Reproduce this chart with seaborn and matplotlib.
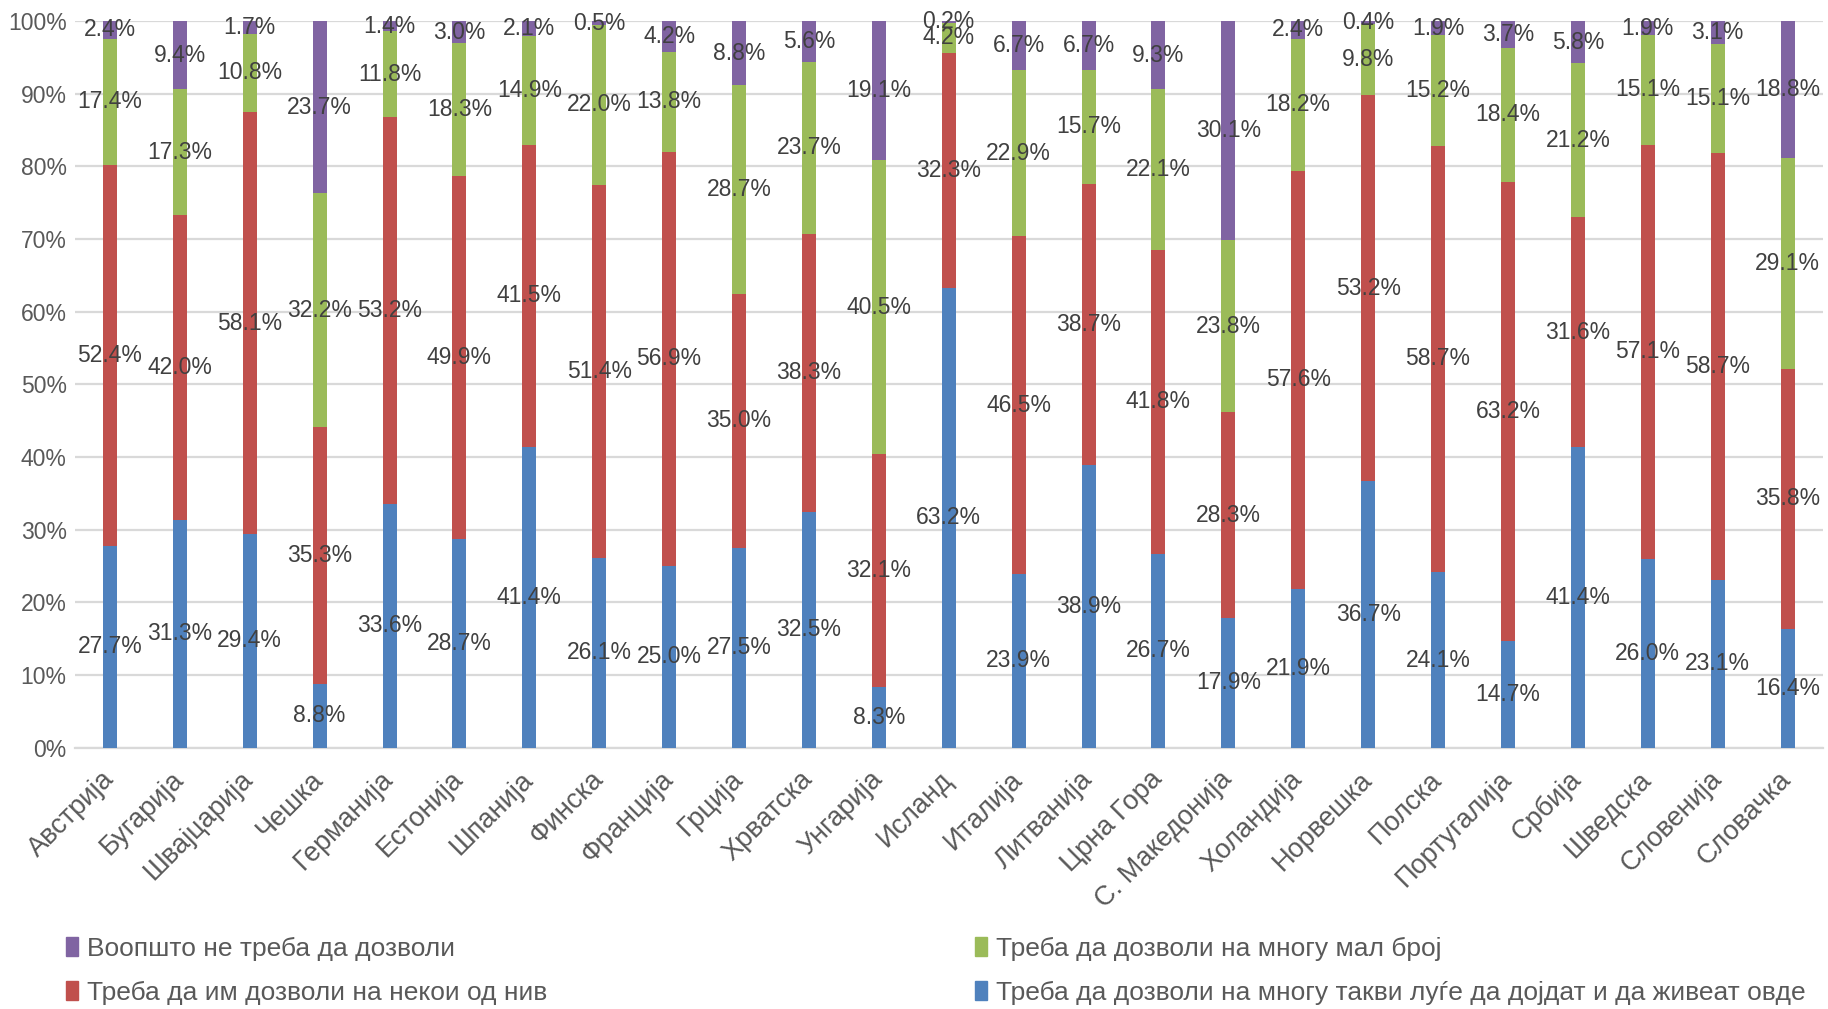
import matplotlib
matplotlib.use("Agg")
import matplotlib.pyplot as plt
import seaborn as sns
import numpy as np
import pandas as pd
from matplotlib.patches import Patch
from matplotlib.ticker import FuncFormatter, MultipleLocator

countries = ["Австрија", "Бугарија", "Швајцарија", "Чешка", "Германија", "Естонија",
             "Шпанија", "Финска", "Франција", "Грција", "Хрватска", "Унгарија",
             "Исланд", "Италија", "Литванија", "Црна Гора", "С. Македонија",
             "Холандија", "Норвешка", "Полска", "Португалија", "Србија",
             "Шведска", "Словенија", "Словачка"]

many = [27.7, 31.3, 29.4, 8.8, 33.6, 28.7, 41.4, 26.1, 25.0, 27.5, 32.5, 8.3,
        63.2, 23.9, 38.9, 26.7, 17.9, 21.9, 36.7, 24.1, 14.7, 41.4, 26.0, 23.1, 16.4]
some = [52.4, 42.0, 58.1, 35.3, 53.2, 49.9, 41.5, 51.4, 56.9, 35.0, 38.3, 32.1,
        32.3, 46.5, 38.7, 41.8, 28.3, 57.6, 53.2, 58.7, 63.2, 31.6, 57.1, 58.7, 35.8]
few = [17.4, 17.3, 10.8, 32.2, 11.8, 18.3, 14.9, 22.0, 13.8, 28.7, 23.7, 40.5,
       4.2, 22.9, 15.7, 22.1, 23.8, 18.2, 9.8, 15.2, 18.4, 21.2, 15.1, 15.1, 29.1]
none = [2.4, 9.4, 1.7, 23.7, 1.4, 3.0, 2.1, 0.5, 4.2, 8.8, 5.6, 19.1,
        0.2, 6.7, 6.7, 9.3, 30.1, 2.4, 0.4, 1.9, 3.7, 5.8, 1.9, 3.1, 18.8]

series_names = ["Треба да дозволи на многу такви луѓе да дојдат и да живеат овде",
                "Треба да им дозволи на некои од нив",
                "Треба да дозволи на многу мал број",
                "Воопшто не треба да дозволи"]
colors = ["#4F81BD", "#C0504D", "#9BBB59", "#8064A2"]

sns.set_theme(style="white")
plt.rcParams["font.family"] = ["Liberation Sans", "DejaVu Sans"]

vals = np.array([many, some, few, none], dtype=float)
share = vals / vals.sum(axis=0) * 100
cum = np.cumsum(share, axis=0)

fig = plt.figure(figsize=(18.28, 10.09), dpi=100)
ax = fig.add_axes([0.041, 0.259, 0.956, 0.72])

# draw from top layer down so each overlapping bar shows as a stacked segment
for i in range(3, -1, -1):
    df = pd.DataFrame({"country": countries, "value": cum[i]})
    sns.barplot(data=df, x="country", y="value", order=countries, color=colors[i],
                width=0.2, saturation=1, linewidth=0, ax=ax, zorder=3)

for i in range(4):
    bottoms = cum[i] - share[i]
    for j in range(len(countries)):
        ax.text(j, bottoms[j] + share[i][j] / 2, f"{vals[i][j]:.1f}%",
                ha="center", va="center", fontsize=16.5, color="#404040", zorder=5)

ax.set_ylim(0, 100)
ax.set_xlim(-0.5, len(countries) - 0.5)
ax.yaxis.set_major_locator(MultipleLocator(10))
ax.yaxis.set_major_formatter(FuncFormatter(lambda v, p: f"{v:.0f}%"))
ax.grid(axis="y", color="#D9D9D9", linewidth=1.6, zorder=0)
ax.set_axisbelow(True)
for s in ["top", "right", "left"]:
    ax.spines[s].set_visible(False)
ax.spines["bottom"].set_color("#D9D9D9")
ax.spines["bottom"].set_linewidth(1.6)
ax.set_xlabel("")
ax.set_ylabel("")
ax.tick_params(axis="y", length=0, labelsize=16.5, colors="#595959", pad=6)
ax.tick_params(axis="x", length=0, labelsize=19.5, colors="#595959", pad=20)
plt.setp(ax.get_xticklabels(), rotation=45, ha="right", va="center",
         rotation_mode="anchor")

handles = [Patch(color=colors[3]), Patch(color=colors[1]),
           Patch(color=colors[2]), Patch(color=colors[0])]
labels = [series_names[3], series_names[1], series_names[2], series_names[0]]
fig.legend(handles, labels, loc="center left", bbox_to_anchor=(0.029, 0.038),
           ncol=2, frameon=False, fontsize=19, handlelength=0.45, handleheight=0.7,
           handletextpad=0.35, columnspacing=16.2, labelspacing=0.75,
           labelcolor="#595959", borderpad=0)

fig.savefig("out.png", dpi=100)
